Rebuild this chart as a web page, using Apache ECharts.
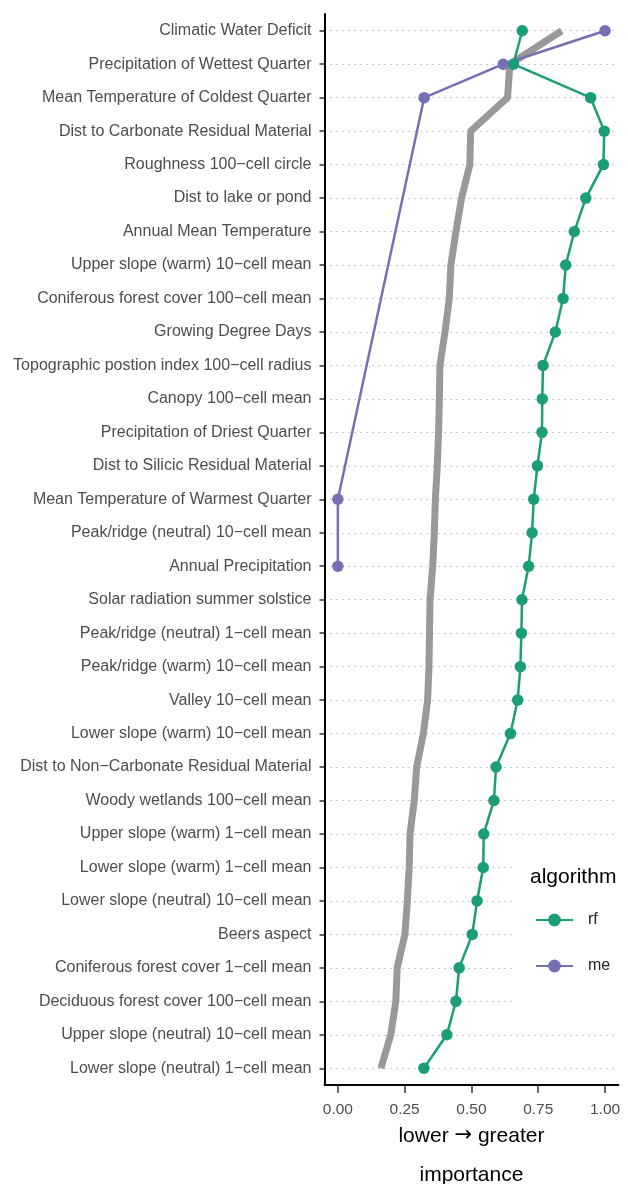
<!DOCTYPE html>
<html><head><meta charset="utf-8">
<script src="https://cdn.jsdelivr.net/npm/echarts@6/dist/echarts.min.js"></script>
<style>html,body{margin:0;padding:0;background:#fff}#c{width:628px;height:1184px}</style>
</head><body><div id="c"></div>
<script>
const categories = [
  "Climatic Water Deficit",
  "Precipitation of Wettest Quarter",
  "Mean Temperature of Coldest Quarter",
  "Dist to Carbonate Residual Material",
  "Roughness 100\u2212cell circle",
  "Dist to lake or pond",
  "Annual Mean Temperature",
  "Upper slope (warm) 10\u2212cell mean",
  "Coniferous forest cover 100\u2212cell mean",
  "Growing Degree Days",
  "Topographic postion index 100\u2212cell radius",
  "Canopy 100\u2212cell mean",
  "Precipitation of Driest Quarter",
  "Dist to Silicic Residual Material",
  "Mean Temperature of Warmest Quarter",
  "Peak/ridge (neutral) 10\u2212cell mean",
  "Annual Precipitation",
  "Solar radiation summer solstice",
  "Peak/ridge (neutral) 1\u2212cell mean",
  "Peak/ridge (warm) 10\u2212cell mean",
  "Valley 10\u2212cell mean",
  "Lower slope (warm) 10\u2212cell mean",
  "Dist to Non\u2212Carbonate Residual Material",
  "Woody wetlands 100\u2212cell mean",
  "Upper slope (warm) 1\u2212cell mean",
  "Lower slope (warm) 1\u2212cell mean",
  "Lower slope (neutral) 10\u2212cell mean",
  "Beers aspect",
  "Coniferous forest cover 1\u2212cell mean",
  "Deciduous forest cover 100\u2212cell mean",
  "Upper slope (neutral) 10\u2212cell mean",
  "Lower slope (neutral) 1\u2212cell mean"
];
const rfValues = [0.690, 0.657, 0.946, 0.997, 0.994, 0.928, 0.885, 0.853, 0.843, 0.814,
  0.768, 0.765, 0.764, 0.747, 0.733, 0.727, 0.714, 0.689, 0.687, 0.683,
  0.673, 0.646, 0.592, 0.584, 0.546, 0.544, 0.521, 0.503, 0.454, 0.442,
  0.408, 0.322];
const meValues = [1.000, 0.619, 0.323, null, null, null, null, null, null, null,
  null, null, null, null, 0.000, null, 0.000, null, null, null,
  null, null, null, null, null, null, null, null, null, null,
  null, null];
const overallValues = [0.838, 0.644, 0.635, 0.497, 0.494, 0.463, 0.442, 0.423, 0.417, 0.401,
  0.382, 0.380, 0.377, 0.372, 0.365, 0.361, 0.355, 0.345, 0.343, 0.341,
  0.336, 0.320, 0.295, 0.286, 0.270, 0.267, 0.260, 0.251, 0.222, 0.217,
  0.198, 0.161];
const xTickValues = [0, 0.25, 0.5, 0.75, 1];
const legendNames = ['rf', 'me'];

const FONT = '"Liberation Sans", Arial, Helvetica, sans-serif';
const chart = echarts.init(document.getElementById('c'), null, {renderer: 'canvas'});
const option = {
  animation: false,
  backgroundColor: '#fff',
  textStyle: {fontFamily: FONT},
  grid: {left: 324.5, right: 9.6, top: 14, bottom: 99, containLabel: false, outerBoundsMode: 'none'},
  xAxis: {
    type: 'value', min: -0.05, max: 1.05,
    axisLine: {show: true, onZero: false, lineStyle: {color: '#000', width: 2}},
    axisTick: {show: true, customValues: xTickValues, length: 8, lineStyle: {color: '#333', width: 1.5}},
    axisLabel: {customValues: xTickValues, formatter: v => v.toFixed(2), color: '#4d4d4d',
      fontSize: 15.5, margin: 17, fontFamily: FONT},
    splitLine: {show: false},
    name: 'lower {a|\u2192} greater\n\nimportance', nameLocation: 'middle', nameGap: 41,
    nameTextStyle: {fontSize: 21, color: '#000', lineHeight: 19.5, fontFamily: FONT,
      rich: {a: {fontSize: 21, fontFamily: '"DejaVu Sans"', color: '#000', lineHeight: 19.5}}}
  },
  yAxis: {
    type: 'category', data: categories, inverse: true,
    axisLine: {show: true, onZero: false, lineStyle: {color: '#000', width: 2}},
    axisTick: {show: true, alignWithLabel: true, length: 5, lineStyle: {color: '#333', width: 1.5}},
    axisLabel: {color: '#4d4d4d', fontSize: 16, margin: 13, interval: 0, fontFamily: FONT},
    splitLine: {show: true, alignWithLabel: true, interval: 0,
      lineStyle: {color: '#a8a8a8', width: 1.2, type: [1.2, 4.8]}}
  },
  legend: {
    data: legendNames, orient: 'vertical', left: 515, top: 850,
    backgroundColor: '#fff', padding: [62, 20, 42, 20],
    itemWidth: 37, itemHeight: 16, itemGap: 30, selectedMode: false,
    textStyle: {fontSize: 16, color: '#222', padding: [0, 0, 0, 10], fontFamily: FONT}
  },
  graphic: [{
    type: 'text', z: 100, x: 530, y: 877,
    style: {text: 'algorithm', fontSize: 21, fontFamily: FONT, fill: '#000', verticalAlign: 'middle'}
  }],
  series: [
    {name: 'overall', type: 'line', data: overallValues, symbol: 'none', silent: true,
      lineStyle: {color: '#999999', width: 7}, itemStyle: {color: '#999999'}},
    {name: 'rf', type: 'line', data: rfValues, symbol: 'circle', symbolSize: 11.5, silent: true,
      lineStyle: {color: '#1B9E77', width: 2.5}, itemStyle: {color: '#1B9E77'}},
    {name: 'me', type: 'line', data: meValues, connectNulls: true, symbol: 'circle', symbolSize: 11.5, silent: true,
      lineStyle: {color: '#7570B3', width: 2.5}, itemStyle: {color: '#7570B3'}}
  ]
};
chart.setOption(option);
</script>
</body></html>
